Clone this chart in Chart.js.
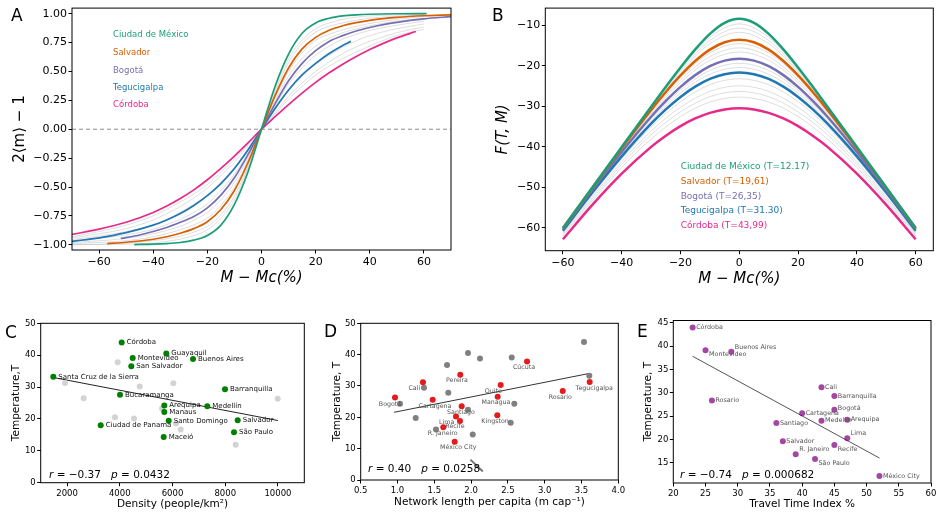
<!DOCTYPE html>
<html>
<head>
<meta charset="utf-8">
<title>Temperature of Latin American cities</title>
<script src="https://cdn.jsdelivr.net/npm/chart.js@4.4.1/dist/chart.umd.min.js"></script>
<style>
  html, body { margin: 0; padding: 0; background: #fff; }
  body { position: relative; width: 943px; height: 517px; overflow: hidden; font-family: "DejaVu Sans", sans-serif; }
  canvas { position: absolute; }
  .txt { position: absolute; white-space: nowrap; }
  .panel { font-size: 17px; line-height: 17px; color: #000; }
  .legA { font-size: 8.5px; line-height: 8.5px; }
  .legB { font-size: 9px; line-height: 9px; }
  .stat { font-size: 10.5px; line-height: 10.5px; color: #000; }
</style>
</head>
<body>
<canvas id="chartA" width="460" height="290" style="left:0;top:0"></canvas>
<canvas id="chartB" width="473" height="290" style="left:470px;top:0"></canvas>
<canvas id="chartC" width="320" height="217" style="left:0;top:300px"></canvas>
<canvas id="chartD" width="330" height="217" style="left:300px;top:300px"></canvas>
<canvas id="chartE" width="318" height="217" style="left:625px;top:300px"></canvas>

<div class="txt panel" style="left:11px;top:7px">A</div>
<div class="txt panel" style="left:492px;top:7px">B</div>
<div class="txt panel" style="left:5px;top:324px">C</div>
<div class="txt panel" style="left:324px;top:323px">D</div>
<div class="txt panel" style="left:637px;top:323px">E</div>

<div class="txt legA" style="left:113px;top:30.4px;color:#1b9e77">Ciudad de México</div>
<div class="txt legA" style="left:113px;top:48px;color:#d95f02">Salvador</div>
<div class="txt legA" style="left:113px;top:65.7px;color:#7570b3">Bogotá</div>
<div class="txt legA" style="left:113px;top:83px;color:#1f77b4">Tegucigalpa</div>
<div class="txt legA" style="left:113px;top:100.4px;color:#e7298a">Córdoba</div>

<div class="txt legB" style="left:680.7px;top:161.8px;color:#1b9e77">Ciudad de México (T=12.17)</div>
<div class="txt legB" style="left:680.7px;top:176.8px;color:#d95f02">Salvador (T=19,61)</div>
<div class="txt legB" style="left:680.7px;top:191.5px;color:#7570b3">Bogotá (T=26,35)</div>
<div class="txt legB" style="left:680.7px;top:206.2px;color:#1f77b4">Tegucigalpa (T=31.30)</div>
<div class="txt legB" style="left:680.7px;top:220.8px;color:#e7298a">Córdoba (T=43,99)</div>

<div class="txt stat" style="left:49px;top:468.7px"><i>r</i> = −0.37&nbsp;&nbsp;&nbsp;<i>p</i> = 0.0432</div>
<div class="txt stat" style="left:368px;top:463px"><i>r</i> = 0.40&nbsp;&nbsp;&nbsp;<i>p</i> = 0.0258</div>
<div class="txt stat" style="left:680px;top:468.7px"><i>r</i> = −0.74&nbsp;&nbsp;&nbsp;<i>p</i> = 0.000682</div>

<script>
// ---------- Panel A: 2<m>-1 against M - Mc ----------
const aTicksX = [-60, -40, -20, 0, 20, 40, 60];
const aTicksY = [-1, -0.75, -0.5, -0.25, 0, 0.25, 0.5, 0.75, 1];

const aMexicoX = [-47, -40, -35, -30, -25, -20, -15, -10, -5, 0, 5, 10, 15, 20, 25, 30, 35, 40, 50, 61];
const aMexicoY = [-0.998, -0.995, -0.99, -0.98, -0.96, -0.92, -0.83, -0.65, -0.37, 0, 0.37, 0.65, 0.83, 0.92, 0.96, 0.98, 0.99, 0.995, 0.999, 1.0];
const aSalvadorX = [-57, -50, -45, -40, -35, -30, -25, -20, -15, -10, -5, 0, 5, 10, 15, 20, 25, 30, 35, 40, 45, 50, 60, 70];
const aSalvadorY = [-0.99, -0.978, -0.967, -0.952, -0.93, -0.9, -0.86, -0.8, -0.695, -0.53, -0.29, 0, 0.29, 0.53, 0.695, 0.795, 0.857, 0.895, 0.922, 0.942, 0.957, 0.968, 0.982, 0.99];
const aBogotaX = [-52, -45, -40, -35, -30, -25, -20, -15, -10, -5, 0, 5, 10, 15, 20, 25, 30, 35, 40, 45, 50, 60, 70];
const aBogotaY = [-0.945, -0.915, -0.885, -0.85, -0.805, -0.755, -0.68, -0.57, -0.42, -0.22, 0, 0.22, 0.42, 0.57, 0.68, 0.76, 0.81, 0.85, 0.88, 0.905, 0.925, 0.955, 0.975];
const aTeguX = [-70, -60, -50, -40, -35, -30, -25, -20, -15, -10, -5, 0, 5, 10, 15, 20, 25, 30, 33];
const aTeguY = [-0.97, -0.94, -0.895, -0.83, -0.785, -0.73, -0.66, -0.575, -0.47, -0.34, -0.18, 0, 0.18, 0.34, 0.47, 0.57, 0.655, 0.725, 0.76];
const aCordobaX = [-70, -60, -50, -40, -35, -30, -25, -20, -15, -10, -5, 0, 5, 10, 15, 20, 25, 30, 35, 40, 45, 50, 57];
const aCordobaY = [-0.91, -0.865, -0.805, -0.72, -0.665, -0.6, -0.525, -0.437, -0.338, -0.232, -0.118, 0, 0.108, 0.213, 0.312, 0.405, 0.488, 0.563, 0.63, 0.69, 0.743, 0.79, 0.845];

// the other cities, drawn in light grey
const aGreyX = [-70, -60, -50, -40, -35, -30, -25, -20, -15, -10, -5, 0, 5, 10, 15, 20, 25, 30, 35, 40, 50, 60];
const aGreyY = [
  [-1.0, -0.998, -0.995, -0.985, -0.97, -0.95, -0.92, -0.87, -0.77, -0.61, -0.34, 0, 0.34, 0.61, 0.77, 0.87, 0.92, 0.95, 0.97, 0.98, 0.99, 0.995],
  [-0.998, -0.995, -0.985, -0.965, -0.948, -0.925, -0.89, -0.84, -0.74, -0.58, -0.32, 0, 0.32, 0.58, 0.74, 0.84, 0.89, 0.92, 0.943, 0.96, 0.978, 0.99],
  [-0.99, -0.98, -0.965, -0.93, -0.903, -0.87, -0.827, -0.77, -0.66, -0.50, -0.27, 0, 0.27, 0.50, 0.66, 0.77, 0.822, 0.86, 0.89, 0.915, 0.95, 0.975],
  [-0.98, -0.965, -0.945, -0.905, -0.875, -0.84, -0.787, -0.72, -0.61, -0.46, -0.245, 0, 0.245, 0.46, 0.61, 0.72, 0.785, 0.835, 0.868, 0.895, 0.935, 0.96],
  [-0.965, -0.945, -0.915, -0.865, -0.825, -0.78, -0.72, -0.645, -0.53, -0.39, -0.205, 0, 0.205, 0.39, 0.53, 0.64, 0.718, 0.78, 0.822, 0.855, 0.90, 0.935],
  [-0.955, -0.925, -0.885, -0.83, -0.78, -0.72, -0.65, -0.57, -0.46, -0.33, -0.17, 0, 0.17, 0.33, 0.46, 0.56, 0.64, 0.71, 0.765, 0.81, 0.87, 0.91],
  [-0.94, -0.905, -0.86, -0.785, -0.73, -0.67, -0.595, -0.51, -0.40, -0.285, -0.145, 0, 0.145, 0.285, 0.40, 0.50, 0.582, 0.655, 0.712, 0.76, 0.835, 0.885],
  [-0.93, -0.885, -0.83, -0.75, -0.693, -0.63, -0.56, -0.48, -0.37, -0.26, -0.13, 0, 0.13, 0.26, 0.37, 0.47, 0.545, 0.61, 0.668, 0.72, 0.81, 0.865]
];
const aZeroX = [-70, 70];
const aZeroY = [0, 0];

// ---------- Panel B: F(T, M) ----------
const bTicksX = [-60, -40, -20, 0, 20, 40, 60];
const bTicksY = [-60, -50, -40, -30, -20, -10];
const bX = [-60, -50, -40, -30, -25, -20, -15, -10, -5, 0, 5, 10, 15, 20, 25, 30, 40, 50, 60];
const bMexicoY = [-60.0, -50.0, -40.02, -30.09, -25.20, -20.45, -15.99, -12.15, -9.44, -8.44, -9.44, -12.15, -15.99, -20.45, -25.20, -30.09, -40.02, -50.0, -60.0];
const bSalvadorY = [-60.04, -50.12, -40.33, -30.90, -26.47, -22.40, -18.85, -16.04, -14.22, -13.59, -14.22, -16.04, -18.85, -22.40, -26.47, -30.90, -40.33, -50.12, -60.04];
const bBogotaY = [-60.28, -50.59, -41.24, -32.57, -28.68, -25.22, -22.32, -20.12, -18.74, -18.26, -18.74, -20.12, -22.32, -25.22, -28.68, -32.57, -41.24, -50.59, -60.28];
const bTeguY = [-60.67, -51.26, -42.34, -34.29, -30.77, -27.69, -25.16, -23.26, -22.10, -21.69, -22.10, -23.26, -25.16, -27.69, -30.77, -34.29, -42.34, -51.26, -60.67];
const bCordobaY = [-62.79, -54.32, -46.62, -40.01, -37.25, -34.89, -33.00, -31.62, -30.78, -30.49, -30.78, -31.62, -33.00, -34.89, -37.25, -40.01, -46.62, -54.32, -62.79];

const bGreyX = [-60, -40, -30, -20, -10, 0, 10, 20, 30, 40, 60];
const bGreyY = [
  [-60.0, -40.05, -30.2, -20.78, -13.01, -9.70, -13.01, -20.78, -30.2, -40.05, -60.0],
  [-60.01, -40.09, -30.3, -21.13, -13.77, -10.74, -13.77, -21.13, -30.3, -40.09, -60.01],
  [-60.01, -40.15, -30.5, -21.54, -14.57, -11.78, -14.57, -21.54, -30.5, -40.15, -60.01],
  [-60.07, -40.46, -31.1, -22.91, -16.85, -14.56, -16.85, -22.91, -31.1, -40.46, -60.07],
  [-60.11, -40.63, -31.5, -23.51, -17.75, -15.60, -17.75, -23.51, -31.5, -40.63, -60.11],
  [-60.16, -40.84, -31.9, -24.15, -18.66, -16.64, -18.66, -24.15, -31.9, -40.84, -60.16],
  [-60.38, -41.56, -33.1, -26.02, -21.16, -19.41, -21.16, -26.02, -33.1, -41.56, -60.38],
  [-60.50, -41.90, -33.6, -26.76, -22.11, -20.45, -22.11, -26.76, -33.6, -41.90, -60.50],
  [-60.92, -42.94, -35.1, -28.86, -24.69, -23.22, -24.69, -28.86, -35.1, -42.94, -60.92],
  [-61.26, -43.70, -36.1, -30.25, -26.33, -24.95, -26.33, -30.25, -36.1, -43.70, -61.26],
  [-61.58, -44.37, -37.0, -31.38, -27.64, -26.34, -27.64, -31.38, -37.0, -44.37, -61.58],
  [-61.94, -45.08, -38.1, -32.53, -28.96, -27.73, -28.96, -32.53, -38.1, -45.08, -61.94]
];

// ---------- Panel C: temperature against density ----------
const cTicksX = [2000, 4000, 6000, 8000, 10000];
const cTicksY = [0, 10, 20, 30, 40, 50];
const cCities = ['Córdoba', 'Guayaquil', 'Montevideo', 'Buenos Aires', 'San Salvador', 'Santa Cruz de la Sierra',
  'Barranquilla', 'Bucaramanga', 'Arequipa', 'Medellín', 'Manaus', 'Santo Domingo', 'Salvador',
  'Ciudad de Panama', 'São Paulo', 'Maceió'];
const cDensity = [4073, 5765, 4490, 6778, 4437, 1478, 7992, 4008, 5689, 7320, 5689, 5856, 8473, 3276, 8333, 5666];
const cTemp = [43.99, 40.5, 39.1, 38.8, 36.5, 33.2, 29.3, 27.6, 24.2, 24.0, 22.2, 19.4, 19.61, 18.0, 15.8, 14.3];
const cOtherDensity = [3921, 1922, 6031, 4756, 2631, 9991, 5602, 3819, 4540, 6133, 6311, 8397];
const cOtherTemp = [37.8, 31.3, 31.2, 30.2, 26.5, 26.3, 23.3, 20.5, 20.1, 18.6, 16.7, 11.9];
const cFitX = [1478, 10000];
const cFitY = [33.0, 19.5];

// ---------- Panel D: temperature against network length ----------
const dTicksX = [0.5, 1.0, 1.5, 2.0, 2.5, 3.0, 3.5, 4.0];
const dTicksY = [0, 10, 20, 30, 40, 50];
const dCities = ['Bogotá', 'Cali', 'Cartagena', 'Pereira', 'Santiago', 'Lima', 'Recife', 'R. Janeiro',
  'México City', 'Quito', 'Managua', 'Kingston', 'Cúcuta', 'Rosario', 'Tegucigalpa'];
const dLength = [0.966, 1.346, 1.478, 1.853, 1.872, 1.795, 1.849, 1.622, 1.777, 2.402, 2.361, 2.356, 2.760, 3.245, 3.611];
const dTemp = [26.35, 31.2, 25.6, 33.6, 23.5, 20.3, 18.8, 16.85, 12.17, 30.3, 26.6, 20.7, 37.8, 28.4, 31.30];
const dOtherLength = [3.534, 1.958, 2.121, 2.552, 1.673, 1.360, 1.690, 3.606, 1.034, 1.958, 2.587, 1.247, 2.538, 1.523, 2.022];
const dOtherTemp = [44.0, 40.5, 38.8, 39.1, 36.7, 29.4, 27.8, 33.3, 24.3, 22.4, 24.3, 19.8, 18.3, 16.1, 14.5];
const dFitX = [0.953, 3.606];
const dFitY = [21.6, 34.0];
const dMarkX = [1.99, 2.16];
const dMarkY = [6.5, 2.7];

// ---------- Panel E: temperature against travel time index ----------
const eTicksX = [20, 25, 30, 35, 40, 45, 50, 55, 60];
const eTicksY = [15, 20, 25, 30, 35, 40, 45];
const eCities = ['Córdoba', 'Montevideo', 'Buenos Aires', 'Rosario', 'Cali', 'Barranquilla', 'Bogotá', 'Cartagena',
  'Medellín', 'Arequipa', 'Santiago', 'Lima', 'Salvador', 'Recife', 'R. Janeiro', 'São Paulo', 'México City'];
const eTti = [23, 25, 29, 26, 43, 45, 45, 40, 43, 47, 36, 47, 37, 45, 39, 42, 52];
const eTemp = [43.99, 39.1, 38.8, 28.35, 31.15, 29.3, 26.35, 25.6, 24.0, 24.2, 23.5, 20.25, 19.61, 18.8, 16.8, 15.8, 12.17];
const eFitX = [23, 52];
const eFitY = [37.8, 16.0];

// ---------- drawing ----------
const COLORS = {
  mexico: '#1b9e77', salvador: '#d95f02', bogota: '#7570b3', tegu: '#1f77b4', cordoba: '#e7298a',
  greyLine: 'rgba(195,195,195,0.55)'
};
Chart.defaults.font.family = "'DejaVu Sans', sans-serif";
Chart.defaults.color = '#000';

const pts = (xs, ys) => xs.map((x, i) => ({ x: x, y: ys[i] }));
const fmt = dec => v => v.toFixed(dec).replace('-', '\u2212');

function axis(o) {
  const horizontal = o.pos === 'bottom';
  return {
    type: 'linear',
    position: o.pos,
    min: o.min,
    max: o.max,
    afterBuildTicks: s => { s.ticks = o.ticks.map(v => ({ value: v })); },
    afterFit: s => { if (horizontal) s.height = o.size; else s.width = o.size; },
    border: { display: false },
    grid: { display: true, drawOnChartArea: false, drawTicks: true, tickLength: 3.5, tickWidth: 1, tickColor: '#000', color: '#000' },
    ticks: { autoSkip: false, maxRotation: 0, padding: o.tickPad, color: '#000', font: { size: o.tickSize }, callback: fmt(o.dec) },
    title: {
      display: true, text: o.title, color: '#000',
      font: { size: o.titleSize, style: o.italic ? 'italic' : 'normal' },
      padding: horizontal ? { top: 0, bottom: o.titlePad } : { top: o.titlePad, bottom: 0 }
    }
  };
}

// box round the plot area, like matplotlib spines
const frame = {
  id: 'frame',
  afterDatasetsDraw(chart) {
    const a = chart.chartArea, ctx = chart.ctx;
    ctx.save();
    ctx.strokeStyle = '#000';
    ctx.lineWidth = 1;
    ctx.strokeRect(a.left, a.top, a.right - a.left, a.bottom - a.top);
    ctx.restore();
  }
};

// city names next to the points of one dataset
function cityNames(datasetIndex, names, offsets, size, color, align) {
  return {
    id: 'cityNames',
    afterDatasetsDraw(chart) {
      const ctx = chart.ctx;
      const els = chart.getDatasetMeta(datasetIndex).data;
      ctx.save();
      ctx.font = size + "px 'DejaVu Sans'";
      ctx.fillStyle = color;
      ctx.textAlign = align;
      ctx.textBaseline = 'middle';
      els.forEach((el, i) => {
        const off = offsets[i] || offsets[0];
        ctx.fillText(names[i], el.x + off[0], el.y + off[1]);
      });
      ctx.restore();
    }
  };
}

const curve = (data, color, width) => ({
  data: data, borderColor: color, borderWidth: width, pointRadius: 0,
  cubicInterpolationMode: 'monotone', fill: false
});
const dots = (data, color) => ({
  data: data, backgroundColor: color, borderWidth: 0, pointRadius: 3, showLine: false
});
const fitLine = (data, color, width) => ({
  data: data, borderColor: color, borderWidth: width, pointRadius: 0, showLine: true, fill: false
});

const common = {
  responsive: false,
  animation: false,
  devicePixelRatio: 1,
  events: [],
  plugins: { legend: { display: false }, tooltip: { enabled: false } }
};

// A
new Chart(document.getElementById('chartA'), {
  type: 'line',
  data: {
    datasets: [
      curve(pts(aMexicoX, aMexicoY), COLORS.mexico, 1.7),
      curve(pts(aSalvadorX, aSalvadorY), COLORS.salvador, 1.7),
      curve(pts(aBogotaX, aBogotaY), COLORS.bogota, 1.7),
      curve(pts(aTeguX, aTeguY), COLORS.tegu, 1.7),
      curve(pts(aCordobaX, aCordobaY), COLORS.cordoba, 1.7),
      { data: pts(aZeroX, aZeroY), borderColor: '#8c8c8c', borderWidth: 1, borderDash: [4, 3], pointRadius: 0 }
    ].concat(aGreyY.map(ys => curve(pts(aGreyX, ys), COLORS.greyLine, 1)))
  },
  plugins: [frame],
  options: Object.assign({}, common, {
    layout: { padding: { left: 0, top: 6, right: 9, bottom: 0 } },
    scales: {
      x: axis({ pos: 'bottom', min: -70, max: 70, ticks: aTicksX, dec: 0, size: 40, tickSize: 11, tickPad: 2,
        title: 'M \u2212 Mc(%)', titleSize: 15, italic: true, titlePad: 3 }),
      y: axis({ pos: 'left', min: -1.045, max: 1.048, ticks: aTicksY, dec: 2, size: 72, tickSize: 11, tickPad: 1.5,
        title: '2\u27E8m\u27E9 \u2212 1', titleSize: 15, titlePad: 11 })
    }
  })
});

// B
new Chart(document.getElementById('chartB'), {
  type: 'line',
  data: {
    datasets: [
      curve(pts(bX, bMexicoY), COLORS.mexico, 2.5),
      curve(pts(bX, bSalvadorY), COLORS.salvador, 2.5),
      curve(pts(bX, bBogotaY), COLORS.bogota, 2.5),
      curve(pts(bX, bTeguY), COLORS.tegu, 2.5),
      curve(pts(bX, bCordobaY), COLORS.cordoba, 2.5)
    ].concat(bGreyY.map(ys => curve(pts(bGreyX, ys), COLORS.greyLine, 1)))
  },
  plugins: [frame],
  options: Object.assign({}, common, {
    layout: { padding: { left: 0, top: 6, right: 9.7, bottom: 0 } },
    scales: {
      x: axis({ pos: 'bottom', min: -66, max: 66, ticks: bTicksX, dec: 0, size: 39.3, tickSize: 11, tickPad: 2,
        title: 'M \u2212 Mc(%)', titleSize: 15, italic: true, titlePad: 1.7 }),
      y: axis({ pos: 'left', min: -65.6, max: -5.8, ticks: bTicksY, dec: 0, size: 75.3, tickSize: 11, tickPad: 1.5,
        title: 'F(T, M)', titleSize: 15, italic: true, titlePad: 24.3 })
    }
  })
});

// C
new Chart(document.getElementById('chartC'), {
  type: 'scatter',
  data: {
    datasets: [
      dots(pts(cDensity, cTemp), '#008000'),
      dots(pts(cOtherDensity, cOtherTemp), '#d3d3d3'),
      fitLine(pts(cFitX, cFitY), '#222', 1)
    ]
  },
  plugins: [frame, cityNames(0, cCities, [[5, 0]], 7, '#111', 'left')],
  options: Object.assign({}, common, {
    layout: { padding: { left: 0, top: 23.3, right: 15.7, bottom: 0 } },
    scales: {
      x: axis({ pos: 'bottom', min: 1000, max: 11000, ticks: cTicksX, dec: 0, size: 34.3, tickSize: 8.5, tickPad: 2,
        title: 'Density (people/km\u00B2)', titleSize: 10.5, titlePad: 6.7 }),
      y: axis({ pos: 'left', min: 0, max: 50, ticks: cTicksY, dec: 0, size: 40.7, tickSize: 8.5, tickPad: 1.5,
        title: 'Temperature,T', titleSize: 10.5, titlePad: 10.4 })
    }
  })
});

// D
const dOffsets = [[-5, 6.7], [-8.7, 6.3], [2.3, 6.4], [-3.3, 6], [-0.7, 6], [-9.3, 6.4], [-5, 5.7], [-0.6, 6.3],
  [3.6, 6], [-7.4, 6], [-1.7, 5.6], [-2.3, 6], [-3, 5.6], [-2.4, 6.3], [4.6, 6]];
new Chart(document.getElementById('chartD'), {
  type: 'scatter',
  data: {
    datasets: [
      dots(pts(dLength, dTemp), '#e41a1c'),
      dots(pts(dOtherLength, dOtherTemp), '#808080'),
      fitLine(pts(dFitX, dFitY), '#333', 1),
      fitLine(pts(dMarkX, dMarkY), '#777', 2)
    ]
  },
  plugins: [frame, cityNames(0, dCities, dOffsets, 6.3, '#555', 'center')],
  options: Object.assign({}, common, {
    layout: { padding: { left: 0, top: 23.3, right: 11.7, bottom: 0 } },
    scales: {
      x: axis({ pos: 'bottom', min: 0.5, max: 4.0, ticks: dTicksX, dec: 1, size: 37, tickSize: 8.5, tickPad: 2,
        title: 'Network length per capita (m cap\u207B\u00B9)', titleSize: 10.5, titlePad: 8.4 }),
      y: axis({ pos: 'left', min: 0, max: 50, ticks: dTicksY, dec: 0, size: 60.7, tickSize: 8.5, tickPad: 1.5,
        title: 'Temperature, T', titleSize: 10.5, titlePad: 31 })
    }
  })
});

// E
const eOffsets = [[3.5, 0], [3.5, 4], [3.5, -4.5], [3.5, 0], [3.5, 0], [3.5, 0], [3.5, -1], [3.5, 0], [3.5, 0],
  [3.5, 0], [3.5, 0], [3.5, -4.5], [3.5, 0], [3.5, 4.5], [3.5, -4.5], [3.5, 4], [3.5, 0]];
new Chart(document.getElementById('chartE'), {
  type: 'scatter',
  data: {
    datasets: [
      dots(pts(eTti, eTemp), 'rgba(128,0,128,0.72)'),
      fitLine(pts(eFitX, eFitY), '#555', 1)
    ]
  },
  plugins: [frame, cityNames(0, eCities, eOffsets, 6.4, '#555', 'left')],
  options: Object.assign({}, common, {
    layout: { padding: { left: 0, top: 20.5, right: 12, bottom: 0 } },
    scales: {
      x: axis({ pos: 'bottom', min: 20, max: 60, ticks: eTicksX, dec: 0, size: 34, tickSize: 8.5, tickPad: 2,
        title: 'Travel Time Index %', titleSize: 10.5, titlePad: 6.7 }),
      y: axis({ pos: 'left', min: 10.65, max: 45.47, ticks: eTicksY, dec: 0, size: 48.3, tickSize: 8.5, tickPad: 1.5,
        title: 'Temperature, T', titleSize: 10.5, titlePad: 17 })
    }
  })
});
</script>
</body>
</html>
